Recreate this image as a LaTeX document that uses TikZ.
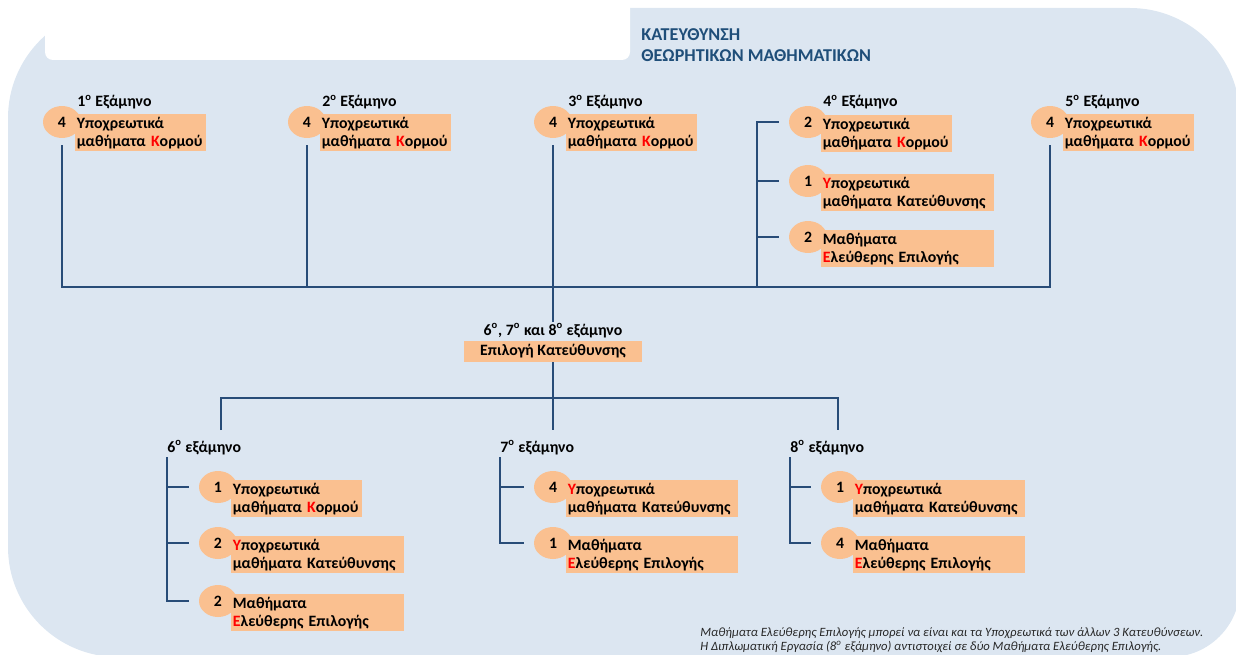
\documentclass[tikz,border=0pt]{standalone}
\usepackage{fontspec}
\setmainfont{Carlito}
\usetikzlibrary{shapes.geometric}

\definecolor{peach}{RGB}{250,192,144}
\definecolor{paneblue}{RGB}{220,230,241}
\definecolor{linkblue}{RGB}{40,76,120}
\definecolor{headblue}{RGB}{31,78,121}

\newcommand{\hl}[1]{\textcolor{red}{#1}}
\newcommand{\sups}{\textsuperscript{ο}}

\pgfdeclarelayer{back}
\pgfdeclarelayer{wires}
\pgfsetlayers{back,wires,main}

\tikzset{
	badge/.style={ellipse, fill=peach, minimum width=0.76cm, minimum height=0.64cm, inner sep=0pt, font=\fontsize{9}{10}\selectfont\bfseries},
	itembox/.style={fill=peach, anchor=north west, align=left, inner xsep=0.03cm, inner ysep=0pt, minimum height=0.74cm, text width=#1, font=\fontsize{9}{10.2}\selectfont\bfseries},
	semtitle/.style={anchor=base west, inner sep=0pt, font=\fontsize{9}{10}\selectfont\bfseries},
	tree/.style={draw=linkblue, line width=1.1pt},
}

\begin{document}
\begin{tikzpicture}[x=0.02cm, y=-0.02cm]
	\useasboundingbox (0,0) rectangle (1236,655);

	% backdrop
	\begin{pgfonlayer}{back}
		\fill[paneblue, rounded corners=2.2cm] (8,8) rectangle (1240,657);
		\fill[paneblue, rounded corners=1.4cm] (600,300) rectangle (1240,657);
		\fill[white, rounded corners=0.16cm] (45,-20) rectangle (630,60);
	\end{pgfonlayer}

	\node[anchor=base west, align=left, inner sep=0pt, text=headblue, font=\fontsize{10.3}{12}\selectfont\bfseries] (head) at (641,62) {ΚΑΤΕΥΘΥΝΣΗ\\ΘΕΩΡΗΤΙΚΩΝ ΜΑΘΗΜΑΤΙΚΩΝ};

	% first five semesters
	\foreach \x/\n in {62/1,307/2,553/3,1050/5}{
		\node[badge] (b\n) at (\x,122) {4};
		\node[itembox=2.56cm] (r\n) at (\x+13,114) {Υποχρεωτικά\\μαθήματα \hl{Κ}ορμού};
		\node[semtitle] (t\n) at (\x+15,107) {\n\sups{} Εξάμηνο};
	}

	\node[semtitle] (t4) at (823,107) {4\sups{} Εξάμηνο};
	\node[badge] (b4a) at (808,122) {2};
	\node[itembox=2.56cm] (r4a) at (821,115) {Υποχρεωτικά\\μαθήματα \hl{Κ}ορμού};
	\node[badge] (b4b) at (808,181) {1};
	\node[itembox=3.4cm] (r4b) at (821,174) {\hl{Υ}ποχρεωτικά\\μαθήματα Κατεύθυνσης};
	\node[badge] (b4c) at (808,237) {2};
	\node[itembox=3.4cm] (r4c) at (821,230) {Μαθήματα\\\hl{Ε}λεύθερης Επιλογής};

	% choice of direction
	\coordinate (hub) at (553,287);
	\coordinate (split) at (553,398);
	\node[fill=paneblue, minimum height=0.38cm, inner sep=1pt, font=\fontsize{9}{10}\selectfont\bfseries] (mid) at (553,331) {6\sups, 7\sups{} και 8\sups{} εξάμηνο};
	\node[fill=peach, minimum width=3.58cm, minimum height=0.42cm, inner sep=0pt, font=\fontsize{9}{10}\selectfont\bfseries] (choice) at (553,351.5) {Επιλογή Κατεύθυνσης};

	% 6th semester
	\node[semtitle] (t6) at (167,452) {6\sups{} εξάμηνο};
	\node[badge] (b6a) at (218,487) {1};
	\node[itembox=2.56cm] (r6a) at (231,480) {Υποχρεωτικά\\μαθήματα \hl{Κ}ορμού};
	\node[badge] (b6b) at (218,543) {2};
	\node[itembox=3.4cm] (r6b) at (231,536) {\hl{Υ}ποχρεωτικά\\μαθήματα Κατεύθυνσης};
	\node[badge] (b6c) at (218,601) {2};
	\node[itembox=3.4cm] (r6c) at (231,594) {Μαθήματα\\\hl{Ε}λεύθερης Επιλογής};

	% 7th semester
	\node[semtitle] (t7) at (500,452) {7\sups{} εξάμηνο};
	\node[badge] (b7a) at (553,487) {4};
	\node[itembox=3.38cm] (r7a) at (566,480) {\hl{Υ}ποχρεωτικά\\μαθήματα Κατεύθυνσης};
	\node[badge] (b7b) at (553,543) {1};
	\node[itembox=3.38cm] (r7b) at (566,536) {Μαθήματα\\\hl{Ε}λεύθερης Επιλογής};

	% 8th semester
	\node[semtitle] (t8) at (790,452) {8\sups{} εξάμηνο};
	\node[badge] (b8a) at (840,487) {1};
	\node[itembox=3.38cm] (r8a) at (853,480) {\hl{Υ}ποχρεωτικά\\μαθήματα Κατεύθυνσης};
	\node[badge] (b8b) at (840,543) {4};
	\node[itembox=3.38cm] (r8b) at (853,536) {Μαθήματα\\\hl{Ε}λεύθερης Επιλογής};

	\coordinate (d6) at (221,430);
	\coordinate (d7) at (553,430);
	\coordinate (d8) at (838,430);
	\coordinate (sp4) at (757,287);

	\node[anchor=north west, align=left, inner sep=0pt, text=black!85, font=\fontsize{7.2}{8.2}\selectfont\itshape] (note) at (700,627) {Μαθήματα Ελεύθερης Επιλογής μπορεί να είναι και τα Υποχρεωτικά των άλλων 3 Κατευθύνσεων.\\Η Διπλωματική Εργασία (8\sups{} εξάμηνο) αντιστοιχεί σε δύο Μαθήματα Ελεύθερης Επιλογής.};

	% connectors
	\begin{pgfonlayer}{wires}
		\draw[tree] ([yshift=-0.14cm]b1.south) |- (hub) -| ([yshift=-0.14cm]b5.south);
		\draw[tree] ([yshift=-0.14cm]b2.south) -- (b2 |- hub);
		\draw[tree] ([yshift=-0.14cm]b3.south) -- (hub) -- (split);
		\draw[tree] ([xshift=-0.2cm]b4a.west) -| (sp4);
		\draw[tree] (sp4 |- b4b) -- ([xshift=-0.2cm]b4b.west);
		\draw[tree] (sp4 |- b4c) -- ([xshift=-0.2cm]b4c.west);

		\draw[tree] (d6) |- (split) -| (d8);
		\draw[tree] (split) -- (d7);

		\draw[tree] ([yshift=-0.1cm]t6.base west) |- ([xshift=-0.2cm]b6c.west);
		\draw[tree] (t6.base west |- b6a) -- ([xshift=-0.2cm]b6a.west);
		\draw[tree] (t6.base west |- b6b) -- ([xshift=-0.2cm]b6b.west);
		\draw[tree] ([yshift=-0.1cm]t7.base west) |- ([xshift=-0.2cm]b7b.west);
		\draw[tree] (t7.base west |- b7a) -- ([xshift=-0.2cm]b7a.west);
		\draw[tree] ([yshift=-0.1cm]t8.base west) |- ([xshift=-0.2cm]b8b.west);
		\draw[tree] (t8.base west |- b8a) -- ([xshift=-0.2cm]b8a.west);
	\end{pgfonlayer}
\end{tikzpicture}
\end{document}
